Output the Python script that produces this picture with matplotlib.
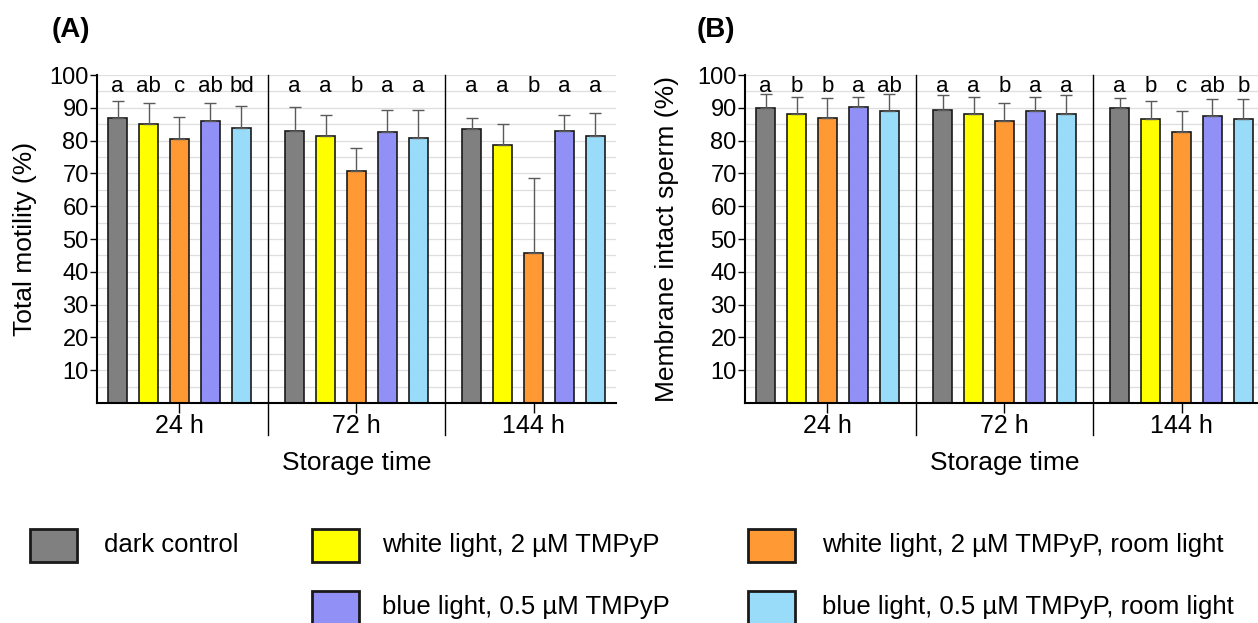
import matplotlib
matplotlib.use("Agg")
import matplotlib.pyplot as plt
from matplotlib.patches import Rectangle
import numpy as np

plt.rcParams['font.family'] = ['Liberation Sans', 'DejaVu Sans']

times = ["24 h", "72 h", "144 h"]
treatments = ["dark control", "white light, 2 µM TMPyP",
              "white light, 2 µM TMPyP, room light",
              "blue light, 0.5 µM TMPyP",
              "blue light, 0.5 µM TMPyP, room light"]
colors = ["#808080", "#ffff00", "#ff9933", "#9090f6", "#99dcfa"]

# rows = storage time, columns = treatment
motility_mean = [[86.9, 85.0, 80.6, 86.0, 83.7],
                 [82.9, 81.4, 70.8, 82.7, 80.9],
                 [83.4, 78.7, 45.6, 82.9, 81.5]]
motility_sd = [[5.2, 6.4, 6.7, 5.4, 6.8],
               [7.3, 6.4, 6.8, 6.5, 8.3],
               [3.6, 6.3, 22.9, 4.9, 6.8]]
motility_letters = [["a", "ab", "c", "ab", "bd"],
                    ["a", "a", "b", "a", "a"],
                    ["a", "a", "b", "a", "a"]]

membrane_mean = [[90.0, 88.2, 86.9, 90.3, 89.0],
                 [89.4, 88.1, 86.1, 89.1, 88.2],
                 [89.8, 86.6, 82.6, 87.6, 86.7]]
membrane_sd = [[4.2, 5.2, 6.2, 3.1, 5.2],
               [4.6, 5.3, 5.3, 4.1, 5.8],
               [3.3, 5.6, 6.5, 5.0, 5.9]]
membrane_letters = [["a", "b", "b", "a", "ab"],
                    ["a", "a", "b", "a", "a"],
                    ["a", "b", "c", "ab", "b"]]

W, H = 1258, 623
fig = plt.figure(figsize=(W / 100, H / 100), dpi=100)


def draw_panel(ax, means, sds, letters, ylabel, ylabel_x):
    means = np.array(means)
    sds = np.array(sds)
    offsets = (np.arange(5) - 2) * 0.175
    for i in range(5):
        x = np.arange(3) + offsets[i]
        ax.bar(x, means[:, i], width=0.11, color=colors[i], edgecolor='#1a1a1a',
               linewidth=1.2, zorder=2)
        ax.errorbar(x, means[:, i], yerr=[np.zeros(3), sds[:, i]], fmt='none',
                    ecolor='#5a5a5a', elinewidth=1, capsize=4, capthick=1, zorder=3)
        for g in range(3):
            ax.text(x[g], 96.5, letters[g][i], ha='center', va='center', fontsize=16)
    for sep in [0.5, 1.5]:
        ax.axvline(sep, ymin=-0.098, ymax=1, color='black', lw=1, clip_on=False, zorder=4)

    ax.set_xlim(-0.466, 2.466)
    ax.set_ylim(0, 100)
    ax.set_yticks(np.arange(10, 101, 10))
    ax.set_yticks(np.arange(5, 100, 10), minor=True)
    ax.yaxis.grid(True, which='both', color='#dedede', lw=0.9)
    ax.set_axisbelow(True)
    ax.set_xticks(range(3))
    ax.set_xticklabels(times, fontsize=18)
    ax.tick_params(axis='y', which='major', labelsize=17, length=5, width=1, pad=1)
    ax.tick_params(axis='y', which='minor', length=0)
    ax.tick_params(axis='x', length=7, width=1, pad=1)
    for s in ['top', 'right']:
        ax.spines[s].set_visible(False)
    for s in ['left', 'bottom']:
        ax.spines[s].set_linewidth(1.5)
    ax.set_xlabel("Storage time", fontsize=19)
    ax.xaxis.set_label_coords(0.5, -0.183)
    ax.xaxis.label.set_va('center')
    ax.set_ylabel(ylabel, fontsize=19)
    ax.yaxis.set_label_coords(ylabel_x, 0.5)
    ax.yaxis.label.set_va('center')


bottom = 1 - 403 / H
height = 328 / H
axA = fig.add_axes([97 / W, bottom, 519 / W, height])
axB = fig.add_axes([745 / W, bottom, 519 / W, height])
draw_panel(axA, motility_mean, motility_sd, motility_letters, "Total motility (%)", -0.139)
draw_panel(axB, membrane_mean, membrane_sd, membrane_letters, "Membrane intact sperm (%)", -0.150)

fig.text(52 / W, 1 - 30 / H, "(A)", fontsize=20, fontweight='bold', ha='left', va='center')
fig.text(697 / W, 1 - 30 / H, "(B)", fontsize=20, fontweight='bold', ha='left', va='center')

# legend laid out by hand: (patch left, row centre, text left)
legend_pos = [(30, 545, 104), (312, 545, 382), (748, 545, 822),
              (312, 607, 382), (748, 607, 822)]
for k, (px, py, tx) in enumerate(legend_pos):
    rect = Rectangle((px / W, 1 - (py + 17) / H), 47 / W, 33 / H,
                     transform=fig.transFigure, facecolor=colors[k],
                     edgecolor='#1a1a1a', linewidth=2, clip_on=False)
    fig.add_artist(rect)
    fig.text(tx / W, 1 - py / H, treatments[k], fontsize=18.5, ha='left', va='center')

fig.savefig("out.png", dpi=100)
